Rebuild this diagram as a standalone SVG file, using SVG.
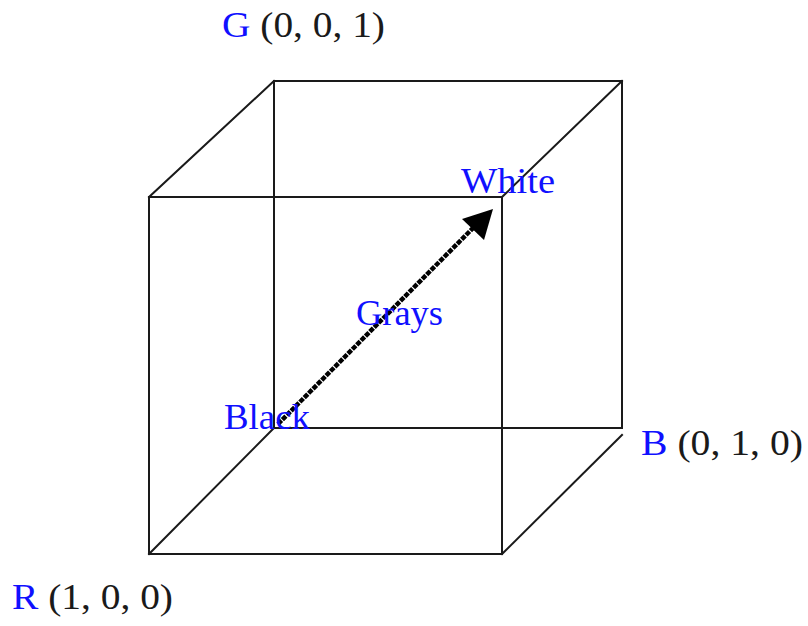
<svg xmlns="http://www.w3.org/2000/svg" width="808" height="626" viewBox="0 0 808 626">
<defs>
<style>
.edge{stroke:#1a1a1a;stroke-width:2;fill:none;stroke-linecap:square}
.t{font-family:"Liberation Serif","Times New Roman",serif;font-size:35px;fill:#1a1a1a}
.b{fill:#1010ff}
</style>
</defs>
<rect width="808" height="626" fill="#fff"/>
<g id="cube">
<path class="edge" d="M274,81 L622,81 L622,428 L274,428 Z"/>
<path class="edge" d="M149,197 L502,197 L502,554 L149,554 Z"/>
<path class="edge" d="M149,197 L274,81"/>
<path class="edge" d="M502,197 L622,81"/>
<path class="edge" d="M502,554 L622,435"/>
<path class="edge" d="M149,554 L274,428"/>
</g>
<g id="connectors">
<path d="M278,424 L476,225" stroke="#000" stroke-width="4.5" stroke-dasharray="5 1.2" fill="none"/>
<path d="M493,209 L484,240 L462,219 Z" fill="#000"/>
</g>
<g id="G"><text class="t" x="222" y="37" textLength="163" lengthAdjust="spacingAndGlyphs"><tspan class="b">G</tspan> (0, 0, 1)</text></g>
<g id="B"><text class="t" x="641" y="455" textLength="162" lengthAdjust="spacingAndGlyphs"><tspan class="b">B</tspan> (0, 1, 0)</text></g>
<g id="R"><text class="t" x="12" y="609" textLength="161" lengthAdjust="spacingAndGlyphs"><tspan class="b">R</tspan> (1, 0, 0)</text></g>
<g id="White"><text class="t b" x="461" y="193" textLength="94" lengthAdjust="spacingAndGlyphs">White</text></g>
<g id="Black"><text class="t b" x="224" y="429" textLength="86" lengthAdjust="spacingAndGlyphs">Black</text></g>
<g id="Grays"><text class="t b" x="356" y="325" textLength="87" lengthAdjust="spacingAndGlyphs">Grays</text></g>
</svg>
